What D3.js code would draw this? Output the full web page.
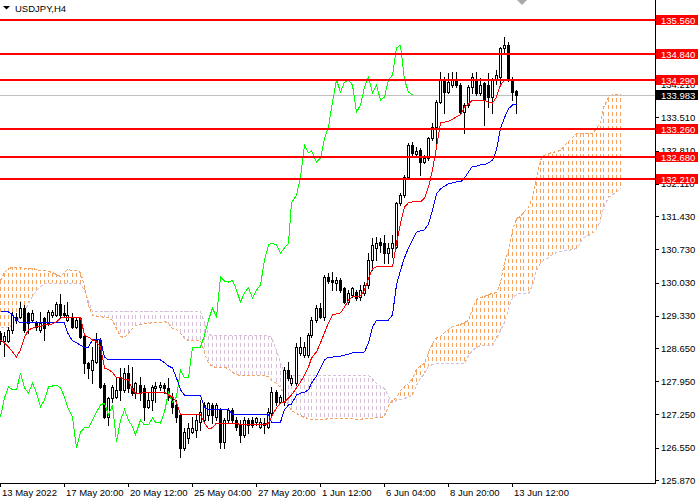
<!DOCTYPE html>
<html>
<head>
<meta charset="utf-8">
<script src="https://cdn.jsdelivr.net/npm/d3@7/dist/d3.min.js"></script>
<style>
body { margin: 0; background: #fff; }
svg text { font-family: "Liberation Sans", Arial, sans-serif; font-size: 9.5px; }
</style>
</head>
<body>
<svg id="chart" width="700" height="500"></svg>
<script>
"use strict"

// USDJPY H4 candles
var opens = [
	128.97, 128.80, 128.80, 129.03, 129.30, 129.30, 129.49, 129.39, 129.24, 129.20,
	129.03, 129.28, 129.18, 129.35, 129.35, 129.58, 129.39, 129.24, 129.28, 129.09,
	129.28, 128.90, 128.34, 128.19, 128.36, 128.82, 127.87, 127.20, 127.60, 127.62,
	128.04, 127.77, 128.12, 127.81, 127.70, 127.87, 127.81, 127.41, 127.56, 127.81,
	127.83, 127.87, 127.81, 127.62, 127.45, 127.24, 126.54, 126.76, 126.88, 126.92,
	127.09, 127.13, 127.24, 127.45, 127.20, 127.35, 126.67, 127.13, 127.35, 127.13,
	127.03, 126.82, 127.13, 127.13, 127.09, 126.99, 127.03, 126.99, 127.28, 127.72,
	127.51, 127.51, 128.19, 127.91, 127.91, 128.55, 128.50, 128.50, 128.92, 129.24,
	129.49, 129.30, 130.15, 130.08, 130.02, 130.08, 129.92, 129.62, 129.77, 129.83,
	129.73, 129.81, 129.98, 130.50, 130.76, 130.88, 130.86, 130.65, 130.76, 130.78,
	131.71, 131.87, 132.25, 132.93, 132.74, 132.82, 132.57, 132.65, 133.07, 133.31,
	133.83, 134.30, 134.04, 134.19, 134.30, 134.19, 133.62, 133.77, 134.15, 134.30,
	134.02, 134.23, 134.19, 133.94, 134.30, 134.36, 134.97, 135.03, 134.30, 134.06];
var highs = [
	129.01, 128.99, 129.09, 129.41, 129.39, 129.62, 129.56, 129.41, 129.45, 129.22,
	129.41, 129.30, 129.45, 129.45, 129.62, 129.79, 129.56, 129.62, 129.39, 129.30,
	129.30, 128.92, 128.36, 128.67, 128.97, 128.86, 127.91, 127.62, 127.87, 128.04,
	128.23, 128.23, 128.29, 128.25, 127.93, 128.04, 127.87, 127.72, 127.87, 127.93,
	127.93, 127.91, 128.02, 127.70, 127.56, 127.28, 126.97, 127.07, 127.20, 127.24,
	127.56, 127.51, 127.51, 127.49, 127.49, 127.39, 127.18, 127.39, 127.39, 127.20,
	127.13, 127.20, 127.18, 127.20, 127.20, 127.18, 127.18, 127.39, 127.83, 127.77,
	127.66, 128.25, 128.36, 128.08, 128.76, 128.88, 128.78, 128.97, 129.30, 129.56,
	129.60, 130.19, 130.23, 130.25, 130.15, 130.12, 129.94, 129.87, 129.94, 129.87,
	129.98, 130.04, 130.65, 130.97, 130.99, 130.97, 131.03, 130.86, 131.03, 131.73,
	131.92, 132.29, 132.97, 132.99, 132.88, 132.86, 132.72, 133.10, 133.39, 133.87,
	134.47, 134.36, 134.44, 134.47, 134.47, 134.23, 133.81, 134.19, 134.44, 134.47,
	134.34, 134.25, 134.44, 134.34, 134.51, 134.99, 135.20, 135.10, 134.36, 134.09];
var lows = [
	128.74, 128.48, 128.78, 128.97, 129.18, 129.28, 128.99, 128.97, 129.20, 129.03,
	128.99, 128.82, 129.14, 129.30, 129.32, 129.30, 129.30, 129.22, 129.07, 129.07,
	128.86, 128.12, 128.02, 127.91, 128.34, 127.81, 127.18, 127.03, 127.51, 127.60,
	127.56, 127.72, 127.72, 127.66, 127.60, 127.56, 127.13, 127.39, 127.35, 127.51,
	127.77, 127.70, 127.56, 127.28, 127.09, 126.35, 126.50, 126.65, 126.86, 126.78,
	126.92, 127.07, 127.13, 127.07, 127.13, 126.54, 126.54, 127.07, 127.07, 126.92,
	126.67, 126.78, 126.86, 126.99, 127.03, 126.97, 126.86, 126.97, 127.24, 127.45,
	127.49, 127.45, 127.98, 127.87, 127.87, 128.50, 128.46, 128.46, 128.88, 129.20,
	129.28, 129.24, 130.02, 129.87, 129.87, 129.83, 129.60, 129.58, 129.73, 129.66,
	129.66, 129.77, 129.92, 130.29, 130.50, 130.67, 130.44, 130.44, 130.57, 130.76,
	131.66, 131.83, 132.23, 132.72, 132.67, 132.29, 132.55, 132.61, 133.03, 132.93,
	133.81, 133.60, 134.02, 134.15, 134.15, 133.60, 133.18, 133.73, 134.02, 133.98,
	133.98, 133.35, 133.73, 133.60, 134.21, 134.23, 134.86, 134.28, 133.87, 133.60];
var closes = [
	128.80, 128.90, 129.03, 129.35, 129.24, 129.49, 129.03, 129.18, 129.39, 129.09,
	129.18, 129.07, 129.41, 129.41, 129.58, 129.35, 129.35, 129.35, 129.09, 129.24,
	128.88, 128.34, 128.23, 128.40, 128.82, 127.83, 127.20, 127.60, 127.83, 127.77,
	127.77, 128.12, 127.81, 127.70, 127.91, 127.70, 127.41, 127.56, 127.83, 127.85,
	127.87, 127.81, 127.62, 127.41, 127.20, 126.54, 126.88, 126.97, 126.97, 127.13,
	127.30, 127.45, 127.49, 127.24, 127.45, 126.67, 127.13, 127.35, 127.13, 126.99,
	126.82, 127.13, 127.03, 127.03, 127.18, 127.09, 127.07, 127.30, 127.72, 127.51,
	127.62, 128.19, 128.02, 128.02, 128.67, 128.67, 128.67, 128.92, 129.24, 129.49,
	129.30, 130.15, 130.06, 130.04, 130.08, 129.87, 129.62, 129.81, 129.92, 129.70,
	129.87, 129.98, 130.50, 130.82, 130.86, 130.82, 130.65, 130.76, 130.86, 131.71,
	131.87, 132.25, 132.93, 132.76, 132.80, 132.57, 132.65, 133.07, 133.31, 133.83,
	134.30, 134.04, 134.25, 134.30, 134.19, 133.62, 133.77, 134.15, 134.36, 134.02,
	134.19, 133.87, 133.94, 134.30, 134.40, 134.97, 135.03, 134.30, 134.04, 133.983];

// Ichimoku lines
var tenkan = [
	128.82, 128.76, 128.67, 128.57, 128.46, 128.61, 128.88, 129.03, 129.07, 129.11,
	129.11, 129.14, 129.14, 129.16, 129.20, 129.28, 129.30, 129.30, 129.30, 129.30,
	129.30, 128.92, 128.88, 128.82, 128.78, 128.67, 128.23, 128.19, 128.14, 128.02,
	128.02, 127.98, 127.98, 127.77, 127.70, 127.70, 127.72, 127.72, 127.72, 127.72,
	127.72, 127.72, 127.66, 127.62, 127.51, 127.24, 127.24, 127.24, 127.24, 127.24,
	127.24, 127.07, 126.95, 126.97, 127.07, 127.07, 127.07, 127.07, 127.07, 127.07,
	127.03, 127.03, 127.03, 127.03, 127.03, 127.03, 127.03, 127.07, 127.20, 127.39,
	127.49, 127.51, 127.60, 127.66, 127.81, 127.93, 128.08, 128.25, 128.44, 128.57,
	128.76, 128.97, 129.18, 129.35, 129.37, 129.39, 129.51, 129.66, 129.73, 129.73,
	129.75, 129.87, 130.12, 130.32, 130.36, 130.36, 130.36, 130.36, 130.36, 130.86,
	131.28, 131.62, 131.71, 131.73, 131.73, 131.73, 131.81, 132.04, 132.40, 132.88,
	133.39, 133.41, 133.43, 133.47, 133.52, 133.56, 133.73, 133.79, 133.87, 133.87,
	133.87, 133.87, 133.83, 133.81, 133.94, 134.19, 134.30, 134.30, 134.30, 134.30];
var kijun = [
	129.41, 129.41, 129.41, 129.35, 129.24, 129.18, 129.18, 129.18, 129.18, 129.18,
	129.18, 129.18, 129.18, 129.18, 129.18, 129.18, 129.18, 128.97, 128.80, 128.76,
	128.71, 128.67, 128.67, 128.82, 128.82, 128.82, 128.46, 128.40, 128.40, 128.40,
	128.40, 128.40, 128.40, 128.40, 128.40, 128.40, 128.40, 128.40, 128.40, 128.40,
	128.40, 128.34, 128.27, 128.23, 128.02, 127.77, 127.66, 127.66, 127.66, 127.66,
	127.66, 127.39, 127.35, 127.35, 127.35, 127.35, 127.35, 127.35, 127.26, 127.24,
	127.24, 127.24, 127.24, 127.24, 127.24, 127.24, 127.24, 127.24, 127.09, 127.09,
	127.09, 127.35, 127.45, 127.47, 127.66, 127.70, 127.72, 127.77, 127.91, 128.06,
	128.23, 128.40, 128.46, 128.46, 128.48, 128.48, 128.50, 128.52, 128.55, 128.55,
	128.55, 128.57, 128.76, 129.09, 129.24, 129.24, 129.24, 129.24, 129.35, 129.98,
	130.29, 130.55, 130.76, 130.93, 131.09, 131.12, 131.14, 131.26, 131.56, 131.90,
	132.00, 132.06, 132.11, 132.13, 132.15, 132.15, 132.23, 132.36, 132.48, 132.48,
	132.51, 132.51, 132.55, 132.61, 132.82, 133.28, 133.50, 133.69, 133.77, 133.77];
var spanA = [
	130.08, 130.25, 130.34, 130.36, 130.36, 130.36, 130.34, 130.34, 130.34, 130.32,
	130.29, 130.29, 130.27, 130.25, 130.21, 130.17, 130.25, 130.32, 130.29, 130.29,
	130.25, 129.98, 129.56, 129.35, 129.32, 129.32, 129.30, 129.30, 129.24, 129.07,
	128.90, 128.88, 128.97, 129.07, 129.14, 129.16, 129.18, 129.18, 129.20, 129.20,
	129.20, 129.22, 129.18, 129.07, 129.05, 128.97, 128.86, 128.82, 128.82, 128.82,
	128.82, 128.57, 128.34, 128.27, 128.25, 128.25, 128.25, 128.23, 128.14, 128.10,
	128.08, 128.08, 128.08, 128.08, 128.08, 128.08, 128.08, 128.06, 127.98, 127.91,
	127.83, 127.66, 127.45, 127.35, 127.28, 127.24, 127.20, 127.18, 127.16, 127.16,
	127.16, 127.16, 127.18, 127.18, 127.18, 127.18, 127.18, 127.18, 127.18, 127.16,
	127.16, 127.18, 127.18, 127.18, 127.20, 127.20, 127.22, 127.45, 127.56, 127.62,
	127.77, 127.85, 127.91, 128.02, 128.21, 128.29, 128.34, 128.57, 128.76, 128.88,
	128.90, 128.99, 129.05, 129.11, 129.14, 129.16, 129.20, 129.24, 129.49, 129.68,
	129.73, 129.75, 129.79, 129.81, 129.83, 130.04, 130.46, 130.71, 131.14, 131.39,
	131.43, 131.52, 131.62, 131.83, 132.23, 132.61, 132.72, 132.76, 132.78, 132.80,
	132.82, 132.91, 133.01, 133.10, 133.18, 133.18, 133.18, 133.18, 133.18, 133.28,
	133.41, 133.73, 133.94, 134.00, 134.00, 134.00];
var spanB = [
	129.09, 129.09, 129.09, 129.16, 129.24, 129.30, 129.43, 129.60, 129.75, 129.87,
	129.96, 130.02, 130.02, 130.02, 130.02, 130.02, 130.02, 130.02, 130.02, 130.02,
	130.02, 129.87, 129.66, 129.43, 129.43, 129.43, 129.43, 129.43, 129.43, 129.43,
	129.43, 129.43, 129.43, 129.43, 129.43, 129.43, 129.43, 129.43, 129.43, 129.43,
	129.43, 129.43, 129.43, 129.43, 129.43, 129.43, 129.43, 129.43, 129.43, 129.43,
	129.43, 129.20, 128.95, 128.92, 128.92, 128.92, 128.92, 128.92, 128.92, 128.92,
	128.92, 128.92, 128.92, 128.92, 128.92, 128.92, 128.92, 128.92, 128.88, 128.61,
	128.36, 128.14, 128.08, 128.08, 128.08, 128.08, 128.08, 128.08, 128.08, 128.08,
	128.08, 128.08, 128.08, 128.08, 128.08, 128.08, 128.08, 128.08, 128.08, 128.08,
	128.08, 128.08, 128.08, 128.02, 127.91, 127.85, 127.81, 127.64, 127.51, 127.56,
	127.58, 127.60, 127.64, 127.66, 127.87, 128.02, 128.12, 128.27, 128.31, 128.34,
	128.34, 128.34, 128.34, 128.34, 128.34, 128.34, 128.34, 128.50, 128.61, 128.67,
	128.71, 128.71, 128.71, 128.71, 128.86, 129.03, 129.20, 129.49, 129.73, 129.79,
	129.81, 129.81, 129.81, 129.98, 130.29, 130.44, 130.50, 130.57, 130.63, 130.67,
	130.69, 130.71, 130.71, 130.74, 130.76, 130.88, 130.99, 131.03, 131.07, 131.16,
	131.35, 131.62, 131.83, 131.90, 131.94, 132.02];
var chikouShift = 26;

var levels = [135.56, 134.84, 134.29, 133.26, 132.68, 132.21];
var priceTicks = [125.87, 126.55, 127.25, 127.95, 128.65, 129.33, 130.03, 130.73, 131.43, 132.11, 132.81, 133.51, 134.21];
var timeBars = [0, 16, 32, 48, 64, 80, 96, 112, 128];
var timeLabels = ["13 May 2022", "17 May 20:00", "20 May 12:00", "25 May 04:00", "27 May 20:00",
	"1 Jun 12:00", "6 Jun 04:00", "8 Jun 20:00", "13 Jun 12:00"];
var lastPrice = 133.983;
var symbol = "USDJPY,H4";

var plotRight = 655;
var plotBottom = 483;
var upKumo = "#F4A460";
var downKumo = "#D8BFD8";
var dotOn = 4, dotOff = 3;

var x = d3.scaleLinear().domain([0, 160]).range([-0.5, 639.5]);
var y = d3.scaleLinear().domain([125.87, 133.51]).range([480, 117.3]);

function px(v) {
	return Math.round(v);
}
function bx(i) {
	return px(x(i));
}

var svg = d3.select("#chart");
svg.append("rect")
	.attr("width", 700)
	.attr("height", 500)
	.attr("fill", "#fff")
	;
svg.append("clipPath")
	.attr("id", "plotClip")
	.append("rect")
	.attr("x", 0)
	.attr("y", 0)
	.attr("width", plotRight)
	.attr("height", plotBottom)
	;

var plot = svg.append("g")
	.attr("clip-path", "url(#plotClip)")
	.attr("shape-rendering", "crispEdges")
	;

// kumo hatching, one dotted stroke per bar, dots kept in step across bars
function hatchTop(i) {
	return Math.min(px(y(spanA[i])), px(y(spanB[i])));
}
plot.append("g")
	.selectAll("line")
	.data(d3.range(spanA.length))
	.enter()
	.append("line")
	.attr("x1", function(i) { return bx(i) + 0.5; })
	.attr("x2", function(i) { return bx(i) + 0.5; })
	.attr("y1", function(i) { return hatchTop(i); })
	.attr("y2", function(i) { return Math.max(px(y(spanA[i])), px(y(spanB[i]))); })
	.attr("stroke", function(i) { return spanA[i] >= spanB[i] ? upKumo : downKumo; })
	.attr("stroke-dasharray", dotOn + "," + dotOff)
	.attr("stroke-dashoffset", function(i) { return hatchTop(i) % (dotOn + dotOff); })
	;

var barLine = d3.line()
	.x(function(d) { return bx(d[0]) + 0.5; })
	.y(function(d) { return px(y(d[1])) + 0.5; })
	;

function series(values) {
	return values.map(function(v, i) { return [i, v]; });
}

plot.append("path")
	.attr("d", barLine(series(spanB)))
	.attr("fill", "none")
	.attr("stroke", downKumo)
	.attr("stroke-dasharray", "3,2")
	;
plot.append("path")
	.attr("d", barLine(series(spanA)))
	.attr("fill", "none")
	.attr("stroke", upKumo)
	.attr("stroke-dasharray", "3,2")
	;

// bid line
plot.append("line")
	.attr("x1", 0)
	.attr("x2", plotRight)
	.attr("y1", px(y(lastPrice)) + 0.5)
	.attr("y2", px(y(lastPrice)) + 0.5)
	.attr("stroke", "#C0C0C0")
	;

// candles
var candle = plot.append("g")
	.selectAll("g")
	.data(d3.range(opens.length))
	.enter()
	.append("g")
	;
candle.append("rect")
	.attr("x", function(i) { return bx(i); })
	.attr("y", function(i) { return px(y(highs[i])); })
	.attr("width", 1)
	.attr("height", function(i) { return Math.max(1, px(y(lows[i])) - px(y(highs[i])) + 1); })
	.attr("fill", "#000")
	;
candle.filter(function(i) { return closes[i] >= opens[i]; })
	.append("rect")
	.attr("x", function(i) { return bx(i) - 0.5; })
	.attr("y", function(i) { return px(y(closes[i])) + 0.5; })
	.attr("width", 2)
	.attr("height", function(i) { return Math.max(1, px(y(opens[i])) - px(y(closes[i]))); })
	.attr("fill", "#fff")
	.attr("stroke", "#000")
	;
candle.filter(function(i) { return closes[i] < opens[i]; })
	.append("rect")
	.attr("x", function(i) { return bx(i) - 1; })
	.attr("y", function(i) { return px(y(opens[i])); })
	.attr("width", 3)
	.attr("height", function(i) { return Math.max(1, px(y(closes[i])) - px(y(opens[i])) + 1); })
	.attr("fill", "#000")
	;

// tenkan, kijun, chikou
var freeLine = d3.line()
	.x(function(d) { return bx(d[0]) + 0.5; })
	.y(function(d) { return y(d[1]); })
	;
plot.append("path")
	.attr("d", freeLine(series(closes.slice(chikouShift))))
	.attr("fill", "none")
	.attr("stroke", "#00FF00")
	;
plot.append("path")
	.attr("d", freeLine(series(kijun)))
	.attr("fill", "none")
	.attr("stroke", "#0000FF")
	;
plot.append("path")
	.attr("d", freeLine(series(tenkan)))
	.attr("fill", "none")
	.attr("stroke", "#FF0000")
	;

// horizontal levels
plot.append("g")
	.selectAll("line")
	.data(levels)
	.enter()
	.append("line")
	.attr("x1", 0)
	.attr("x2", plotRight)
	.attr("y1", function(v) { return px(y(v)); })
	.attr("y2", function(v) { return px(y(v)); })
	.attr("stroke", "#FF0000")
	.attr("stroke-width", 2)
	;

// frame
svg.append("path")
	.attr("d", "M" + (plotRight + 0.5) + ",0 V" + (plotBottom + 0.5) + " H0")
	.attr("fill", "none")
	.attr("stroke", "#000")
	.attr("shape-rendering", "crispEdges")
	;

// price scale
var scale = svg.append("g").attr("shape-rendering", "crispEdges");
scale.selectAll("line")
	.data(priceTicks)
	.enter()
	.append("line")
	.attr("x1", plotRight)
	.attr("x2", plotRight + 4)
	.attr("y1", function(v) { return px(y(v)) + 0.5; })
	.attr("y2", function(v) { return px(y(v)) + 0.5; })
	.attr("stroke", "#000")
	;
scale.selectAll("text")
	.data(priceTicks)
	.enter()
	.append("text")
	.attr("x", plotRight + 6)
	.attr("y", function(v) { return y(v) + 3.5; })
	.attr("fill", "#000")
	.text(function(v) { return v.toFixed(3); })
	;

// level and bid tags sit over the scale labels, as in the terminal
function priceTag(v, fill) {
	var yl = px(y(v));
	scale.append("rect")
		.attr("x", plotRight + 1)
		.attr("y", yl - 5)
		.attr("width", 42)
		.attr("height", 10)
		.attr("fill", fill)
		;
	scale.append("text")
		.attr("x", plotRight + 6)
		.attr("y", yl + 3.5)
		.attr("fill", "#fff")
		.text(v.toFixed(3))
		;
}
levels.forEach(function(v) { priceTag(v, "#FF0000"); });
priceTag(lastPrice, "#000");

// time scale
var times = svg.append("g").attr("shape-rendering", "crispEdges");
times.selectAll("line")
	.data(timeBars)
	.enter()
	.append("line")
	.attr("x1", function(b) { return bx(b) + 0.5; })
	.attr("x2", function(b) { return bx(b) + 0.5; })
	.attr("y1", plotBottom)
	.attr("y2", plotBottom + 4)
	.attr("stroke", "#000")
	;
times.selectAll("text")
	.data(timeBars)
	.enter()
	.append("text")
	.attr("x", function(b) { return bx(b) + 2; })
	.attr("y", plotBottom + 13)
	.attr("fill", "#000")
	.text(function(b, k) { return timeLabels[k]; })
	;

// title and shift marker
svg.append("path")
	.attr("d", "M3,6 H10 L6.5,9.5 Z")
	.attr("fill", "#000")
	;
svg.append("text")
	.attr("x", 15)
	.attr("y", 11.5)
	.attr("fill", "#000")
	.text(symbol)
	;
svg.append("path")
	.attr("d", "M517,0 H527 L522,5 Z")
	.attr("fill", "#A9A9A9")
	;
</script>
</body>
</html>
